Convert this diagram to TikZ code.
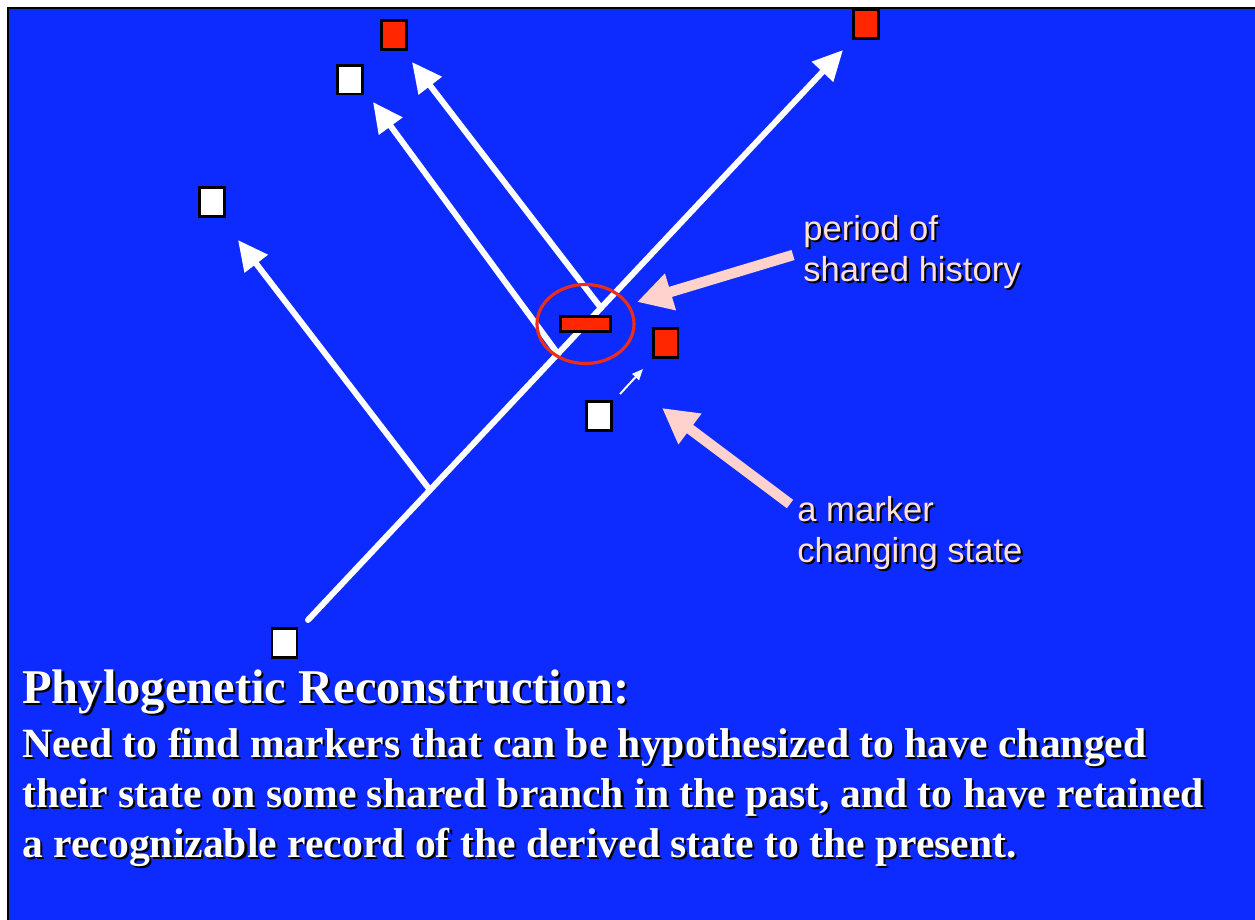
\documentclass[tikz,border=0pt]{standalone}
\usepackage{fontspec}
\setmainfont{Liberation Serif}
\newfontfamily\labelfont{Liberation Sans}
\usetikzlibrary{arrows.meta}
\definecolor{slideblue}{RGB}{13,43,255}
\definecolor{markred}{RGB}{255,38,0}
\definecolor{ringred}{RGB}{235,45,25}
\definecolor{pointerpink}{RGB}{255,210,206}
\definecolor{labelpink}{RGB}{255,224,216}
\newcommand{\shadowed}[1]{\makebox[0pt][l]{\hspace{1.2pt}\raisebox{-1.2pt}{\color{black}#1}}#1}
\begin{document}
\begin{tikzpicture}[x=0.02cm,y=-0.02cm,
  box/.style={draw=black,line width=1.7pt,minimum width=0.5cm,minimum height=0.58cm,inner sep=0pt},
  redbox/.style={box,fill=markred},
  whitebox/.style={box,fill=white},
  branch/.style={white,line width=3.4pt,line cap=round,-{Triangle[length=0.6cm,width=0.56cm]}},
  pointer/.style={pointerpink,line width=0.21cm,-{Triangle[length=0.7cm,width=0.72cm]}},
  lbl/.style={text=labelpink,font=\labelfont\fontsize{19.7}{23.4}\selectfont,anchor=base west,inner sep=0pt},
  txt/.style={text=white,font=\bfseries\fontsize{23.7}{28}\selectfont,anchor=base west,inner sep=0pt}]
\useasboundingbox (0,0) rectangle (1255,920);
% slide background
\fill[slideblue] (8,8) rectangle (1255,920);
\draw[black,line width=1.2pt] (1255,8) -- (8,8) -- (8,920);

% tree
\coordinate (root) at (308,620);
\coordinate (top) at (843,50);
\coordinate (b1) at (430,490);
\coordinate (b2) at (558,354);
\coordinate (b3) at (601,308);
\coordinate (t1) at (238,240);
\coordinate (t2) at (373,102);
\coordinate (t3) at (412,62);
\draw[branch] (root) -- (top);
\draw[branch] (b1) -- (t1);
\draw[branch] (b2) -- (t2);
\draw[branch] (b3) -- (t3);

% marker states
\node[whitebox] (s0) at (284.5,642.5) {};
\node[whitebox] (s1) at (212,202) {};
\node[whitebox] (s2) at (350,79.5) {};
\node[redbox] (s3) at (394,35) {};
\node[redbox] (s4) at (866,24) {};
\node[draw=black,line width=1.7pt,fill=markred,minimum width=1cm,minimum height=0.3cm,inner sep=0pt] (bar) at (585.5,324) {};
\draw[ringred,line width=1.8pt] (bar) ellipse [x radius=48.5,y radius=39.5];

% change of state
\node[whitebox] (old) at (599,416) {};
\node[redbox] (new) at (665.5,343) {};
\coordinate (c1) at (620,394);
\coordinate (c2) at (643,369);
\draw[white,line width=1.1pt,-{Triangle[length=0.22cm,width=0.18cm]}] (c1) -- (c2);

% labels
\node[lbl] (hist1) at (803,240) {\shadowed{period of}};
\node[lbl] (hist2) at (803,281) {\shadowed{shared history}};
\node[lbl] (mark1) at (797,521) {\shadowed{a marker}};
\node[lbl] (mark2) at (797,562) {\shadowed{changing state}};
\coordinate (p1) at (793,255);
\coordinate (q1) at (637,302);
\coordinate (p2) at (790,504);
\coordinate (q2) at (662,408);
\draw[pointer] (p1) -- (q1);
\draw[pointer] (p2) -- (q2);

% caption
\node[txt,font=\bfseries\fontsize{27.6}{32}\selectfont] (title) at (22,703) {\shadowed{Phylogenetic Reconstruction:}};
\node[txt] (line1) at (22,757) {\shadowed{Need to find markers that can be hypothesized to have changed}};
\node[txt] (line2) at (22,807) {\shadowed{their state on some shared branch in the past, and to have retained}};
\node[txt] (line3) at (22,857) {\shadowed{a recognizable record of the derived state to the present.}};
\end{tikzpicture}
\end{document}
